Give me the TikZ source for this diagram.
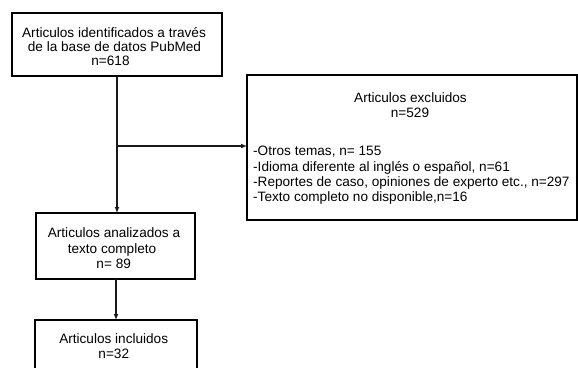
\documentclass[tikz,border=0pt]{standalone}
\usepackage{fontspec}
\setmainfont{Liberation Sans}
\usetikzlibrary{arrows.meta}
\begin{document}
\begin{tikzpicture}[x=1pt,y=-1pt,
  box/.style={draw=black,line width=1.3pt,inner sep=0pt,outer sep=0pt},
  txt/.style={font=\fontsize{13.6}{15}\selectfont,inner sep=0pt,anchor=base},
  ltxt/.style={font=\fontsize{13.6}{15}\selectfont,inner sep=0pt,anchor=base west},
  arr/.style={draw=black!90,line width=1.3pt,-{Latex[length=6pt,width=5pt]}}]
\useasboundingbox (0,0) rectangle (578,367);
\clip (0,0) rectangle (578,367);
% boxes
\node[box,minimum width=210pt,minimum height=63pt] (b1) at (117,44.5) {};
\node[box,minimum width=330pt,minimum height=145pt] (b2) at (412,147.5) {};
\node[box,minimum width=159pt,minimum height=66pt] (b3) at (115.5,246) {};
\node[box,minimum width=162pt,minimum height=70pt] (b4) at (116,355) {};
% texts box 1
\node[txt] (t11) at (114,37.5) {Articulos identificados a través};
\node[txt] (t12) at (114.5,51.6) {de la base de datos PubMed};
\node[txt] (t13) at (110.5,65.7) {n=618};
% texts box 2
\node[txt] (t21) at (410.5,102.4) {Articulos excluidos};
\node[txt] (t22) at (410,117.4) {n=529};
\node[ltxt] (t23) at (253,155.7) {-Otros temas, n= 155};
\node[ltxt] (t24) at (253,171) {-Idioma diferente al inglés o español, n=61};
\node[ltxt] (t25) at (253,186.4) {-Reportes de caso, opiniones de experto etc., n=297};
\node[ltxt] (t26) at (253,201.7) {-Texto completo no disponible,n=16};
% texts box 3
\node[txt] (t31) at (114,237.4) {Articulos analizados a};
\node[txt] (t32) at (112,253) {texto completo};
\node[txt] (t33) at (113.7,268.7) {n= 89};
% texts box 4
\node[txt] (t41) at (113.7,343) {Articulos incluidos};
\node[txt] (t42) at (113.8,358.7) {n=32};
% connectors
\coordinate (br) at (117,146);
\draw[arr] (b1.south -| br) -- (b3.north -| br);
\draw[arr] (br) -- (b2.west |- br);
\draw[arr] (b3.south -| 116,0) -- (b4.north -| 116,0);
\end{tikzpicture}
\end{document}
